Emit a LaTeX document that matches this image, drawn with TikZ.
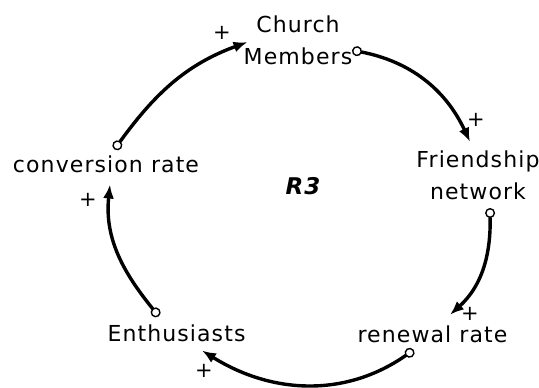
\documentclass[tikz,border=0pt]{standalone}
\usepackage{fontspec}
\setmainfont{DejaVu Sans}[LetterSpace=5]
\newfontfamily\loopfont{DejaVu Sans}[LetterSpace=5]
\usetikzlibrary{arrows.meta}

\begin{document}
\begin{tikzpicture}[x=1pt, y=1pt,
    var/.style={inner sep=0pt, align=center, font=\fontsize{22}{32}\selectfont},
    sign/.style={inner sep=0pt, font=\fontsize{21}{24}\selectfont},
    link/.style={line width=3.4pt, {Circle[open, line width=1.4pt, length=10pt, width=10pt]}-{Latex[length=14pt, width=11pt]}}]
    \useasboundingbox (0,0) rectangle (539,388);

    \node (church) [var, anchor=base] at (298,323) {Church\\Members};
    \node (friend) [var, anchor=base] at (478,188) {Friendship\\network};
    \node (renew) [var, anchor=base] at (432.5,45) {renewal rate};
    \node (enth) [var, anchor=base] at (176.5,46) {Enthusiasts};
    \node (conv) [var, anchor=base] at (106,215) {conversion rate};
    \node (loop) [font=\loopfont\fontsize{23}{24}\selectfont\bfseries\itshape] at (303,202) {R3};

    \draw[link] ([shift={(8.4,6.7)}]conv.north) to[out=54, in=200] ([shift={(4,-1.3)}]church.west);
    \draw[link] ([shift={(-0.4,-9.4)}]church.east) to[out=-11, in=115] ([shift={(-8,9.3)}]friend.north);
    \draw[link] ([shift={(12,-7.5)}]friend.south) to[out=-89, in=42] ([shift={(17.5,11.3)}]renew.north);
    \draw[link] ([shift={(-18.8,-6.4)}]renew.south) to[out=215, in=-32] ([shift={(25.5,-8)}]enth.south);
    \draw[link] ([shift={(-17.7,8.8)}]enth.north) to[out=129, in=264] ([shift={(4,-11)}]conv.south);

    \node (plus1) [sign] at (222,355) {+};
    \node (plus2) [sign] at (476,268) {+};
    \node (plus3) [sign] at (470,74) {+};
    \node (plus4) [sign] at (204,17) {+};
    \node (plus5) [sign] at (88,188) {+};
\end{tikzpicture}
\end{document}
